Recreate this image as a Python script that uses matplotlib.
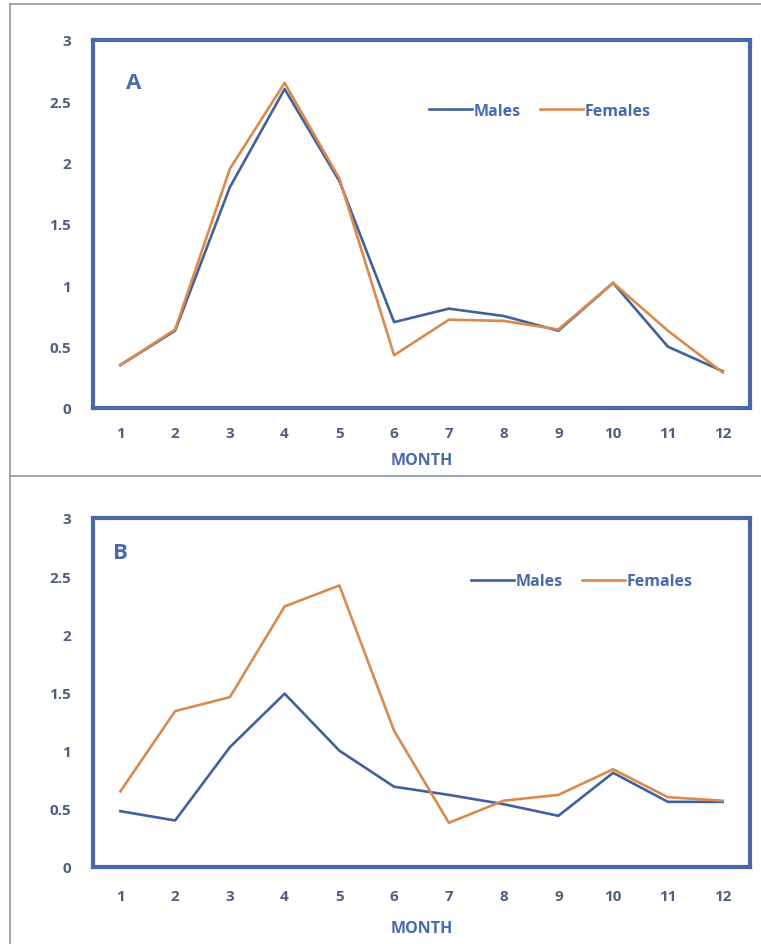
import numpy as np
import matplotlib.pyplot as plt
from matplotlib.lines import Line2D

plt.rcParams['font.family'] = ['Open Sans', 'DejaVu Sans']

months = list(range(1, 13))

males_a = [0.35, 0.63, 1.80, 2.60, 1.85, 0.70, 0.81, 0.75, 0.63, 1.02, 0.50, 0.30]
females_a = [0.35, 0.64, 1.95, 2.65, 1.87, 0.43, 0.72, 0.71, 0.64, 1.02, 0.63, 0.29]

males_b = [0.48, 0.40, 1.03, 1.49, 1.00, 0.69, 0.62, 0.54, 0.44, 0.81, 0.56, 0.56]
females_b = [0.65, 1.34, 1.46, 2.24, 2.42, 1.17, 0.38, 0.57, 0.62, 0.84, 0.60, 0.57]

yticks = [0, 0.5, 1, 1.5, 2, 2.5, 3]
ytick_labels = ['0', '0.5', '1', '1.5', '2', '2.5', '3']

male_col = '#41619c'
female_col = '#d98a4c'
frame_col = '#4a68a5'
text_col = '#4f5e80'

fig = plt.figure(figsize=(7.61, 9.45), dpi=100)

# thin grey boxes round the two panels
box_col = '#8c98a6'
fig.add_artist(Line2D([10/761, 10/761], [0, 1 - 5/945], color=box_col, lw=1.2))
fig.add_artist(Line2D([10/761, 1], [1 - 5/945, 1 - 5/945], color=box_col, lw=1.2))
fig.add_artist(Line2D([10/761, 1], [1 - 477/945, 1 - 477/945], color=box_col, lw=1.2))


def panel(rect, males, females, letter, letter_xy, leg_xy, xpad, lpad):
    ax = fig.add_axes(rect)
    ax.plot(months, males, color=male_col, lw=1.9, label='Males')
    ax.plot(months, females, color=female_col, lw=1.9, label='Females')
    ax.set_xlim(0.5, 12.5)
    ax.set_ylim(0, 3)
    ax.set_xticks(months)
    ax.set_xticklabels([str(m) for m in months])
    ax.set_yticks(yticks)
    ax.set_yticklabels(ytick_labels)
    ax.tick_params(length=0, labelsize=11, labelcolor=text_col)
    ax.tick_params(axis='x', pad=xpad)
    ax.tick_params(axis='y', pad=16)
    for lab in ax.get_xticklabels() + ax.get_yticklabels():
        lab.set_fontweight('bold')
    for sp in ax.spines.values():
        sp.set_color(frame_col)
        sp.set_linewidth(3)
    ax.set_xlabel('MONTH', fontsize=11.5, fontweight='bold', color='#4a6aae', labelpad=lpad)
    ax.text(letter_xy[0], letter_xy[1], letter, transform=ax.transAxes,
            fontsize=16, fontweight='bold', color='#4a6aae', ha='left', va='center')
    ax.legend(loc='center', bbox_to_anchor=leg_xy, ncol=2, frameon=False,
              handlelength=2.7, handletextpad=0.1, columnspacing=1.2,
              prop={'size': 11.5, 'weight': 'bold'}, labelcolor='#4a6aae')
    return ax


panel([93/761, 1 - 409/945, 657/761, 368/945], males_a, females_a,
      'A', (0.05, 0.885), (0.68, 0.807), 13, 8.5)
panel([93/761, 1 - 868/945, 657/761, 349/945], males_b, females_b,
      'B', (0.03, 0.90), (0.7435, 0.819), 16, 12)

fig.savefig('out.png', dpi=100, facecolor='white')
